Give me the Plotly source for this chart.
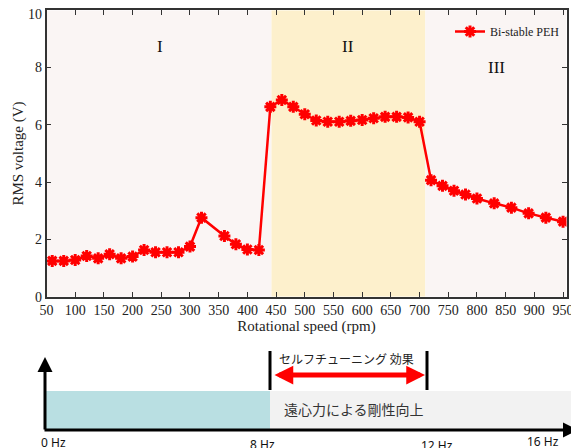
import plotly.graph_objects as go

# ---- data ----
speed_rpm = [60, 80, 100, 120, 140, 160, 180, 200, 220, 240, 260, 280, 300, 320, 360, 380, 400, 420,
             440, 460, 480, 500, 520, 540, 560, 580, 600, 620, 640, 660, 680, 700,
             720, 740, 760, 780, 800, 830, 860, 890, 920, 950]
rms_voltage = [1.25, 1.25, 1.28, 1.42, 1.34, 1.48, 1.34, 1.40, 1.63, 1.55, 1.55, 1.55, 1.75, 2.76, 2.12, 1.83, 1.65, 1.63,
               6.63, 6.87, 6.63, 6.37, 6.15, 6.11, 6.11, 6.14, 6.17, 6.23, 6.28, 6.28, 6.26, 6.11,
               4.07, 3.87, 3.70, 3.57, 3.43, 3.26, 3.11, 2.91, 2.76, 2.62]
series_name = "Bi-stable PEH"
region_edges = [50, 442, 710, 956]
region_labels = ["I", "II", "III"]
region_label_pos = [(247, 8.75), (575, 8.75), (834, 8.0)]
region_colors = ["#faf5f4", "#fdf0cc", "#faf5f4"]
x_ticks = list(range(50, 951, 50))
y_ticks = [0, 2, 4, 6, 8, 10]
y_tick_text = ["0", "2", "4", "6", "8", "10"]
hz_labels = ["0 Hz", "8 Hz", "12 Hz", "16 Hz"]
effect_label = "セルフチューニング 効果"
stiffness_label = "遠心力による剛性向上"

# page body has an 8px default margin -> figure is offset by OFF px
OFF = 8
VW, VH = 579, 448
W, H = VW - OFF, VH - OFF
L, R, T, B = 46.5, 566.5, 10.3, 296.7   # plot box in viewport pixels
serif = "Liberation Serif, Times New Roman, serif"
axcol = "#333333"
tickfont = dict(family=serif, size=14, color="#222222")

fig = go.Figure()
fig.add_trace(go.Scatter(
    x=speed_rpm, y=rms_voltage, mode="lines+markers", name=series_name,
    line=dict(color="#ff0000", width=2.5),
    marker=dict(symbol="asterisk", size=10, color="#ff0000",
                line=dict(color="#ff0000", width=3)),
    xaxis="x", yaxis="y",
))

# invisible helper axes in viewport-pixel units for the schematic below the chart
fig.add_trace(go.Scatter(x=[OFF], y=[OFF], xaxis="x2", yaxis="y2", mode="markers",
                         marker=dict(opacity=0), showlegend=False, hoverinfo="skip"))

shapes = []
for i, c in enumerate(region_colors):
    shapes.append(dict(type="rect", xref="x", yref="y", x0=region_edges[i], x1=region_edges[i + 1],
                       y0=0, y1=10, fillcolor=c, line=dict(width=0), layer="below"))

shapes += [
    dict(type="rect", xref="x2", yref="y2", x0=46, x1=270, y0=391, y1=430,
         fillcolor="#b9dfe2", line=dict(width=0)),
    dict(type="rect", xref="x2", yref="y2", x0=270, x1=572, y0=391, y1=430,
         fillcolor="#f2f2f2", line=dict(width=0)),
    dict(type="line", xref="x2", yref="y2", x0=270, x1=270, y0=351, y1=390,
         line=dict(color="black", width=3)),
    dict(type="line", xref="x2", yref="y2", x0=427, x1=427, y0=351, y1=390,
         line=dict(color="black", width=3)),
]

annotations = []
for lab, (ax_, ay_) in zip(region_labels, region_label_pos):
    annotations.append(dict(x=ax_, y=ay_, xref="x", yref="y", text=lab, showarrow=False,
                            font=dict(family=serif, size=17, color="#111111")))

# top y tick label ("10") sits at the very top edge: draw it as text nudged into view
annotations.append(dict(x=(L - OFF - 3) / W, xref="paper", xanchor="right", y=y_ticks[-1], yref="y",
                        yanchor="middle", yshift=-4, text=y_tick_text[-1], showarrow=False,
                        font=tickfont))

annotations.append(dict(x=45, y=357, ax=45, ay=431, xref="x2", yref="y2", axref="x2", ayref="y2",
                        text="", showarrow=True, arrowhead=2, arrowsize=1, arrowwidth=3, arrowcolor="black"))
annotations.append(dict(x=578, y=430, ax=43, ay=430, xref="x2", yref="y2", axref="x2", ayref="y2",
                        text="", showarrow=True, arrowhead=2, arrowsize=1, arrowwidth=3, arrowcolor="black"))
annotations.append(dict(x=425, y=375, ax=273, ay=375, xref="x2", yref="y2", axref="x2", ayref="y2",
                        text="", showarrow=True, arrowhead=2, startarrowhead=2, arrowside="end+start",
                        arrowsize=0.75, startarrowsize=0.75, arrowwidth=5, arrowcolor="#ff0000"))
annotations.append(dict(x=277, y=358, xref="x2", yref="y2", text=effect_label, showarrow=False,
                        xanchor="left", font=dict(family="Noto Sans CJK JP", size=12, color="#222222")))
annotations.append(dict(x=282, y=409, xref="x2", yref="y2", text=stiffness_label, showarrow=False,
                        xanchor="left", font=dict(family="Noto Sans CJK JP", size=14, color="#333333")))
for lab, (hx, hy) in zip(hz_labels, [(53, 442), (262, 444), (437, 445), (543, 441)]):
    annotations.append(dict(x=hx, y=hy, xref="x2", yref="y2", text=lab, showarrow=False,
                            font=dict(family="Noto Sans, sans-serif", size=12, color="#111111")))

fig.update_layout(
    width=W, height=H,
    margin=dict(l=0, r=0, t=0, b=0),
    paper_bgcolor="white", plot_bgcolor="rgba(0,0,0,0)",
    showlegend=True,
    legend=dict(x=(565 - OFF) / W, xanchor="right", y=1 - (17 - OFF) / H, yanchor="top",
                bgcolor="rgba(0,0,0,0)", itemwidth=30,
                font=dict(family=serif, size=12, color="#222222")),
    xaxis=dict(domain=[(L - OFF) / W, (R - OFF) / W], range=[50, 956], tickvals=x_ticks, ticks="inside",
               ticklen=5, tickcolor=axcol, showline=True, linecolor=axcol, linewidth=1.5,
               mirror="ticks", showgrid=False, zeroline=False, tickfont=tickfont,
               title=dict(text="Rotational speed (rpm)", standoff=3,
                          font=dict(family=serif, size=15, color="#222222")),
               automargin=False, anchor="y"),
    yaxis=dict(domain=[1 - (B - OFF) / H, 1 - (T - OFF) / H], range=[0, 10], tickvals=y_ticks,
               ticktext=y_tick_text[:-1] + [""],
               ticks="inside", ticklen=5, tickcolor=axcol, showline=True, linecolor=axcol,
               linewidth=1.5, mirror="ticks", showgrid=False, zeroline=False, tickfont=tickfont,
               title=dict(text="RMS voltage (V)", standoff=8,
                          font=dict(family=serif, size=15, color="#222222")),
               automargin=False, anchor="x"),
    xaxis2=dict(domain=[0, 1], range=[OFF, VW], visible=False, anchor="y2"),
    yaxis2=dict(domain=[0, 1], range=[VH, OFF], visible=False, anchor="x2"),
    shapes=shapes, annotations=annotations,
)

fig.write_html("out.html")
